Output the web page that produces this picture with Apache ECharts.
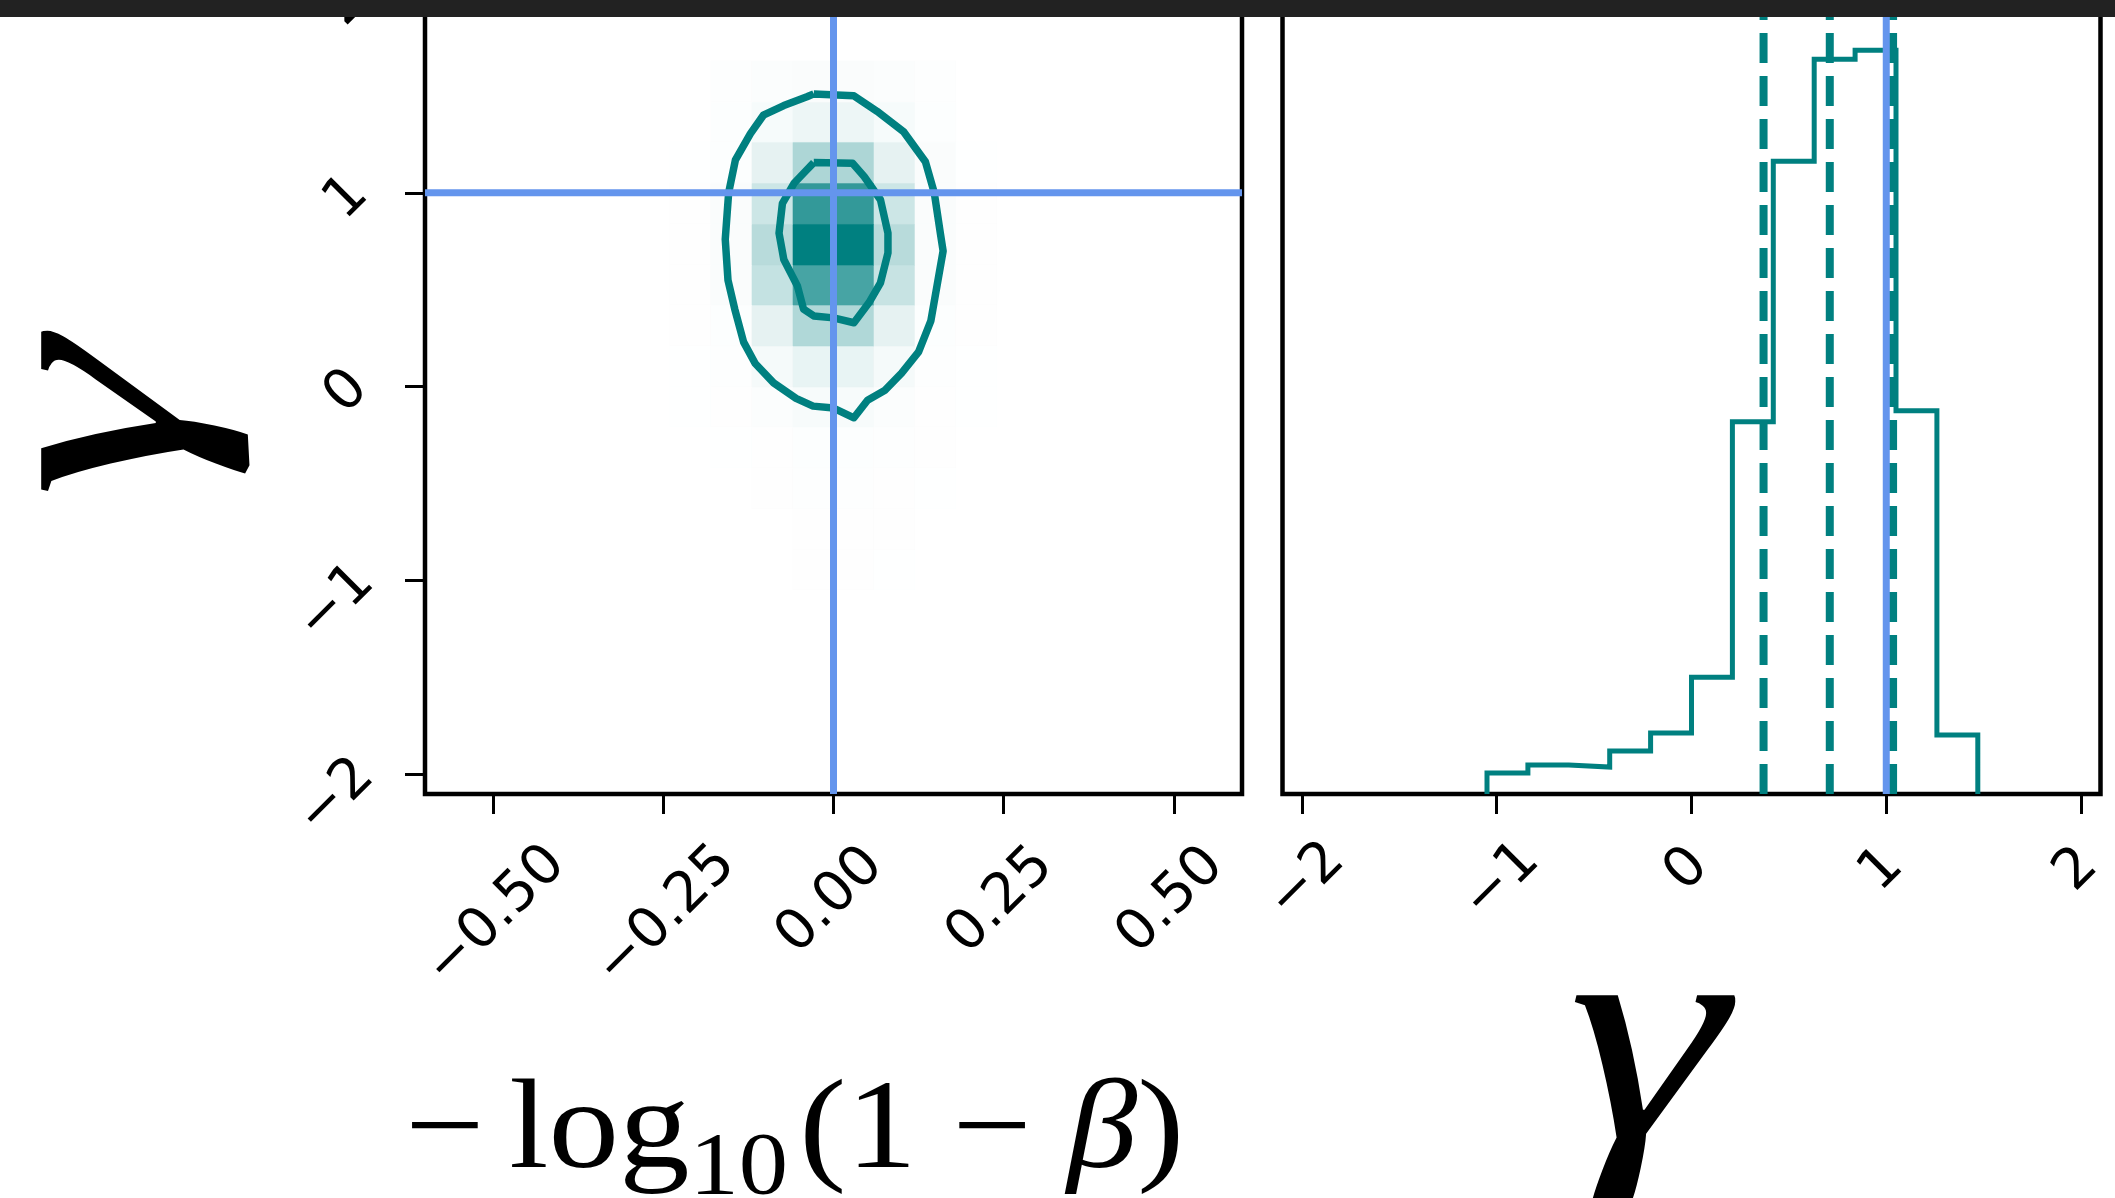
<!DOCTYPE html>
<html>
<head>
<meta charset="utf-8">
<script src="https://cdn.jsdelivr.net/npm/echarts@6/dist/echarts.min.js"></script>
<style>
  html, body { margin: 0; padding: 0; background: #ffffff; overflow: hidden; width: 2115px; height: 1198px; }
  /* the plot box starts just above the visible page, so the canvas is lifted a little */
  #chart { position: absolute; left: 0; top: -30px; width: 2115px; height: 1228px; }
</style>
</head>
<body>
<div id="chart"></div>
<script>
// ---- axes ----
const betaRange = [-0.6, 0.6];
const gammaRange = [-2.1, 2.1];
const betaTicks = [-0.5, -0.25, 0, 0.25, 0.5];
const betaTickLabels = ['−0.50', '−0.25', '0.00', '0.25', '0.50'];
const gammaTicks = [-2, -1, 0, 1, 2];
const gammaTickLabels = ['−2', '−1', '0', '1', '2'];

// ---- joint histogram of (-log10(1-beta), gamma) ----
const cellBetaEdges = [-0.24, -0.18, -0.12, -0.06, 0, 0.06, 0.12, 0.18, 0.24];
const cellGammaEdges = [-1.05, -0.84, -0.63, -0.42, -0.21, 0, 0.21, 0.42, 0.63, 0.84, 1.05, 1.26, 1.47, 1.68];
// relative density per cell, one row per gamma bin (lowest first)
const density = [
  [0, 0, 0, 0.004, 0.004, 0.003, 0, 0],
  [0, 0, 0, 0.005, 0.005, 0.004, 0, 0],
  [0, 0, 0.004, 0.008, 0.008, 0.005, 0.003, 0],
  [0, 0.003, 0.005, 0.01, 0.01, 0.006, 0.004, 0],
  [0.002, 0.005, 0.015, 0.03, 0.03, 0.015, 0.005, 0.003],
  [0.003, 0.006, 0.04, 0.09, 0.09, 0.04, 0.008, 0.003],
  [0.004, 0.01, 0.1, 0.31, 0.31, 0.1, 0.01, 0.004],
  [0.004, 0.02, 0.23, 0.72, 0.72, 0.22, 0.02, 0.004],
  [0.004, 0.02, 0.28, 1.0, 1.0, 0.28, 0.02, 0.004],
  [0.004, 0.02, 0.2, 0.8, 0.8, 0.2, 0.02, 0.004],
  [0.003, 0.01, 0.1, 0.32, 0.32, 0.1, 0.02, 0.003],
  [0, 0.01, 0.035, 0.07, 0.07, 0.035, 0.01, 0],
  [0, 0.008, 0.015, 0.02, 0.02, 0.015, 0.008, 0]
];

// credible-region contours [x, gamma]
const outerContour = [
  [-0.029, 1.51], [0.030, 1.50], [0.064, 1.42], [0.103, 1.315], [0.135, 1.16], [0.148, 1.0],
  [0.157, 0.79], [0.161, 0.70], [0.152, 0.52], [0.143, 0.34], [0.125, 0.18], [0.10, 0.07],
  [0.075, -0.02], [0.05, -0.07], [0.03, -0.16], [0.0, -0.11], [-0.03, -0.10], [-0.055, -0.06],
  [-0.088, 0.02], [-0.115, 0.12], [-0.132, 0.23], [-0.145, 0.40], [-0.155, 0.55], [-0.159, 0.76],
  [-0.154, 1.0], [-0.144, 1.17], [-0.122, 1.305], [-0.103, 1.40], [-0.073, 1.45], [-0.039, 1.495],
  [-0.029, 1.51]
];
const innerContour = [
  [-0.029, 1.156], [0.028, 1.152], [0.045, 1.084], [0.069, 0.964], [0.080, 0.792], [0.080, 0.69],
  [0.069, 0.536], [0.052, 0.433], [0.030, 0.33], [0.0, 0.355], [-0.029, 0.365], [-0.044, 0.40],
  [-0.053, 0.519], [-0.073, 0.656], [-0.080, 0.792], [-0.075, 0.946], [-0.058, 1.049],
  [-0.044, 1.101], [-0.029, 1.156]
];

// ---- marginal histogram of gamma ----
const gammaBinEdges = [-1.05, -0.84, -0.63, -0.42, -0.21, 0, 0.21, 0.42, 0.63, 0.84, 1.05, 1.26, 1.47];
const gammaCounts = [21, 29, 27, 43, 61, 117, 373, 634, 736, 745, 384, 59];
const gammaQuantiles = [0.37, 0.71, 1.035];

// true parameter values
const truthBeta = 0;
const truthGamma = 1;

// ---- build series data ----
const TEAL = '#008080';
const BLUE = '#6495ED';
const LIFT = 30; // canvas offset above the page (see #chart)

function cellColor(t) {
  const r = Math.round(255 * (1 - t));
  const gb = Math.round(255 - 127 * t);
  return 'rgb(' + r + ',' + gb + ',' + gb + ')';
}

const cellData = [];
density.forEach(function (row, j) {
  row.forEach(function (t, i) {
    if (t > 0) {
      cellData.push([cellBetaEdges[i], cellBetaEdges[i + 1], cellGammaEdges[j], cellGammaEdges[j + 1], t]);
    }
  });
});

const stepData = [[gammaBinEdges[0], 0]];
gammaCounts.forEach(function (c, i) {
  stepData.push([gammaBinEdges[i], c]);
  stepData.push([gammaBinEdges[i + 1], c]);
});
stepData.push([gammaBinEdges[gammaBinEdges.length - 1], 0]);

const countMax = Math.max.apply(null, gammaCounts) * 1.1;

function labelFormatter(values, labels) {
  return function (v) {
    let k = 0;
    values.forEach(function (t, i) { if (Math.abs(t - v) < 1e-9) k = i; });
    return (v < 0 ? '{n|' : '{p|') + labels[k] + '}';
  };
}

const tickFont = { fontFamily: 'DejaVu Sans', fontSize: 56, color: '#000' };
function richStyles(pPad, nPad) {
  return {
    p: Object.assign({ padding: pPad }, tickFont),
    n: Object.assign({ padding: nPad }, tickFont)
  };
}

const chart = echarts.init(document.getElementById('chart'), null, { renderer: 'canvas' });

const lineBase = { type: 'line', symbol: 'none', showSymbol: false, animation: false, silent: true };
const hiddenLine = { show: false, onZero: false };
const tickStyle = { color: '#000', width: 3 };

chart.setOption({
  backgroundColor: '#ffffff',
  animation: false,
  grid: [
    { left: 425, top: LIFT - 24, width: 817, height: 818, show: true, borderColor: '#000', borderWidth: 4.5, backgroundColor: 'transparent' },
    { left: 1282.5, top: LIFT - 24, width: 818, height: 818, show: true, borderColor: '#000', borderWidth: 4.5, backgroundColor: 'transparent' }
  ],
  xAxis: [
    {
      type: 'value', gridIndex: 0, min: betaRange[0], max: betaRange[1],
      axisLine: hiddenLine, splitLine: { show: false },
      axisTick: { show: true, customValues: betaTicks, length: 20, lineStyle: tickStyle },
      axisLabel: {
        customValues: betaTicks, rotate: 45, margin: 107, align: 'center', verticalAlign: 'middle',
        formatter: labelFormatter(betaTicks, betaTickLabels),
        rich: richStyles([0, 4, 4, 0], [26, 17, 0, 0])
      }
    },
    {
      type: 'value', gridIndex: 1, min: gammaRange[0], max: gammaRange[1],
      axisLine: hiddenLine, splitLine: { show: false },
      axisTick: { show: true, customValues: gammaTicks, length: 20, lineStyle: tickStyle },
      axisLabel: {
        customValues: gammaTicks, rotate: 45, margin: 76, align: 'center', verticalAlign: 'middle',
        formatter: labelFormatter(gammaTicks, gammaTickLabels),
        rich: richStyles([0, 6, 6, 0], [23, 9, 0, 0])
      }
    }
  ],
  yAxis: [
    {
      type: 'value', gridIndex: 0, min: gammaRange[0], max: gammaRange[1],
      axisLine: hiddenLine, splitLine: { show: false },
      axisTick: { show: true, customValues: gammaTicks, length: 20, lineStyle: tickStyle },
      axisLabel: {
        customValues: gammaTicks, rotate: 45, margin: 78, align: 'center', verticalAlign: 'middle',
        formatter: labelFormatter(gammaTicks, gammaTickLabels),
        rich: richStyles([8, 8, 0, 0], [17, 47, 0, 0])
      }
    },
    {
      type: 'value', gridIndex: 1, min: 0, max: countMax,
      axisLine: hiddenLine, splitLine: { show: false },
      axisTick: { show: false }, axisLabel: { show: false }
    }
  ],
  series: [
    {
      type: 'custom', xAxisIndex: 0, yAxisIndex: 0, silent: true, animation: false, z: 1,
      encode: { x: [0, 1], y: [2, 3] },
      data: cellData,
      renderItem: function (params, api) {
        const p0 = api.coord([api.value(0), api.value(2)]);
        const p1 = api.coord([api.value(1), api.value(3)]);
        const x0 = Math.round(p0[0]), x1 = Math.round(p1[0]);
        const y0 = Math.round(p1[1]), y1 = Math.round(p0[1]);
        const c = cellColor(api.value(4));
        return {
          type: 'rect',
          shape: { x: x0, y: y0, width: x1 - x0, height: y1 - y0 },
          style: { fill: c, stroke: c, lineWidth: 0.6 }
        };
      }
    },
    Object.assign({}, lineBase, { xAxisIndex: 0, yAxisIndex: 0, z: 3, data: outerContour, lineStyle: { color: TEAL, width: 7.5, join: 'round' } }),
    Object.assign({}, lineBase, { xAxisIndex: 0, yAxisIndex: 0, z: 3, data: innerContour, lineStyle: { color: TEAL, width: 7.5, join: 'round' } }),
    Object.assign({}, lineBase, { xAxisIndex: 0, yAxisIndex: 0, z: 4, data: [[truthBeta, gammaRange[0]], [truthBeta, gammaRange[1]]], lineStyle: { color: BLUE, width: 7 } }),
    Object.assign({}, lineBase, { xAxisIndex: 0, yAxisIndex: 0, z: 4, data: [[betaRange[0], truthGamma], [betaRange[1], truthGamma]], lineStyle: { color: BLUE, width: 7 } }),
    Object.assign({}, lineBase, { xAxisIndex: 1, yAxisIndex: 1, z: 3, data: stepData, lineStyle: { color: TEAL, width: 5, join: 'miter' } })
  ].concat(gammaQuantiles.map(function (q) {
    return Object.assign({}, lineBase, {
      xAxisIndex: 1, yAxisIndex: 1, z: 3,
      data: [[q, 0], [q, countMax]],
      lineStyle: { color: TEAL, width: 8, type: [30, 13] }
    });
  })).concat([
    Object.assign({}, lineBase, { xAxisIndex: 1, yAxisIndex: 1, z: 4, data: [[truthGamma, 0], [truthGamma, countMax]], lineStyle: { color: BLUE, width: 7 } })
  ]),
  graphic: [
    {
      type: 'text', x: 102, y: 419 + LIFT, rotation: Math.PI / 2, scaleX: 1.3, z: 10,
      style: { text: 'γ', fontFamily: 'Liberation Serif', fontStyle: 'italic', fontSize: 310, fill: '#000', align: 'center', verticalAlign: 'middle' }
    },
    {
      type: 'text', x: 1647, y: 1056 + LIFT, scaleX: 1.3, z: 10,
      style: { text: 'γ', fontFamily: 'Liberation Serif', fontStyle: 'italic', fontSize: 310, fill: '#000', align: 'center', verticalAlign: 'middle' }
    },
    {
      type: 'text', x: 405, y: 1134 + LIFT, z: 10, scaleX: 1.12,
      style: {
        text: '{m|−}{a|log}{s|10}{a|(1 − }{i|β}{a|)}',
        align: 'left', verticalAlign: 'middle', fill: '#000',
        rich: {
          m: { fontFamily: 'Liberation Serif', fontSize: 126, lineHeight: 160, fill: '#000', padding: [0, 22, 0, 0] },
          a: { fontFamily: 'Liberation Serif', fontSize: 126, lineHeight: 160, fill: '#000' },
          s: { fontFamily: 'Liberation Serif', fontSize: 88, lineHeight: 48, verticalAlign: 'bottom', fill: '#000', padding: [0, 10, 0, 0] },
          i: { fontFamily: 'Liberation Serif', fontStyle: 'italic', fontSize: 126, lineHeight: 160, fill: '#000' }
        }
      }
    },
    {
      type: 'rect', z: 100, shape: { x: 0, y: LIFT, width: 2115, height: 17 }, style: { fill: '#222222' }
    }
  ]
});
</script>
</body>
</html>
